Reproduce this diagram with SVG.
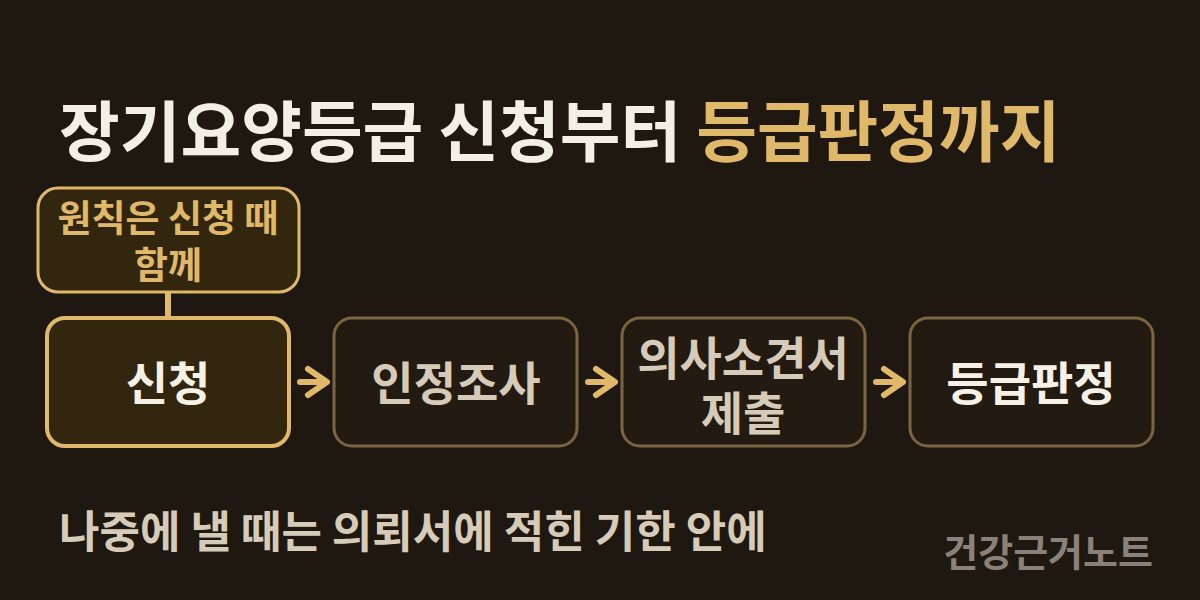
<svg xmlns="http://www.w3.org/2000/svg" width="1200" height="600" viewBox="0 0 1200 600">
<style>
text{font-family:"Noto Sans CJK KR","Noto Sans",sans-serif;font-weight:700}
.box{fill:#231a12;stroke:#7a6540;stroke-width:3}
.lbl{font-size:46px;text-anchor:middle}
.arrow{fill:none;stroke:#e0b86a;stroke-width:6;stroke-linecap:round;stroke-linejoin:round}
</style>
<rect width="1200" height="600" fill="#1f1811"/>
<text x="59" y="156" font-size="66" fill="#f3efe4">장기요양등급 신청부터 <tspan fill="#e0b86a">등급판정까지</tspan></text>
<g id="connectors">
<line x1="168" y1="292" x2="168" y2="318" stroke="#e0b86a" stroke-width="6"/>
<path class="arrow" d="M300 382H325M308 369L327 382L308 395"/>
<path class="arrow" d="M588 382H613M596 369L615 382L596 395"/>
<path class="arrow" d="M876 382H901M884 369L903 382L884 395"/>
</g>
<g id="note">
<rect x="38" y="188" width="261" height="104" rx="20" fill="#33260f" stroke="#e0b86a" stroke-width="3"/>
<text x="168" y="232" font-size="37" fill="#e0b86a" text-anchor="middle">원칙은 신청 때</text>
<text x="168" y="279" font-size="37" fill="#e0b86a" text-anchor="middle">함께</text>
</g>
<g id="n1">
<rect x="47" y="318" width="242" height="128" rx="18" fill="#33260f" stroke="#e0b86a" stroke-width="4"/>
<text class="lbl" x="168" y="400" fill="#f6f1e6">신청</text>
</g>
<g id="n2">
<rect class="box" x="334" y="318" width="243" height="128" rx="18"/>
<text class="lbl" x="456" y="400" fill="#d6cbb8">인정조사</text>
</g>
<g id="n3">
<rect class="box" x="622" y="318" width="243" height="128" rx="18"/>
<text class="lbl" x="743" y="375" fill="#d6cbb8">의사소견서</text>
<text class="lbl" x="743" y="430" fill="#d6cbb8">제출</text>
</g>
<g id="n4">
<rect class="box" x="910" y="318" width="243" height="128" rx="18"/>
<text class="lbl" x="1031" y="400" fill="#f6f1e6">등급판정</text>
</g>
<text x="59" y="548" font-size="44" fill="#d6cbb8">나중에 낼 때는 의뢰서에 적힌 기한 안에</text>
<text x="1153" y="566" font-size="38" fill="#8a8178" text-anchor="end">건강근거노트</text>
</svg>
